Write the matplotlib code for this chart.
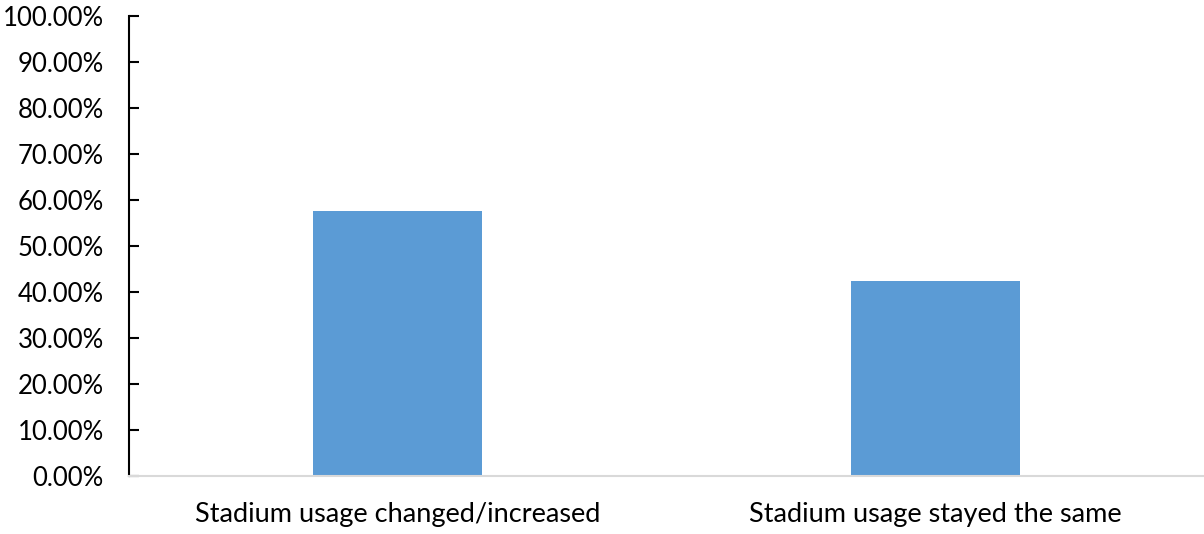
import matplotlib
matplotlib.use("Agg")
import matplotlib.pyplot as plt
from matplotlib.ticker import PercentFormatter, MultipleLocator

# ── データ ────────────────────────────────────────────────
categories = ["Stadium usage changed/increased", "Stadium usage stayed the same"]
shares = [57.6, 42.4]  # percent

BAR_COLOR = "#5B9BD5"
BAR_WIDTH = 0.314

plt.rcParams["font.family"] = ["Lato", "DejaVu Sans"]

fig = plt.figure(figsize=(12.04, 5.34), dpi=100)
ax = fig.add_axes([0.107, 0.109, 0.893, 0.861])

x = range(len(categories))
ax.bar(x, shares, width=BAR_WIDTH, color=BAR_COLOR, zorder=2)

ax.set_xlim(-0.5, len(categories) - 0.5)
ax.set_ylim(0, 100)
ax.yaxis.set_major_locator(MultipleLocator(10))
ax.yaxis.set_major_formatter(PercentFormatter(decimals=2))

ax.set_xticks(list(x))
ax.set_xticklabels(categories, fontsize=19.5)
ax.tick_params(axis="x", length=0, pad=19)
ax.tick_params(axis="y", direction="in", length=7, width=1.5,
               labelsize=18.5, pad=18, color="black")

for side in ("top", "right"):
    ax.spines[side].set_visible(False)
ax.spines["left"].set_color("black")
ax.spines["left"].set_linewidth(1.5)
ax.spines["bottom"].set_color("#D9D9D9")
ax.spines["bottom"].set_linewidth(1.5)

fig.savefig("out.png", dpi=100)
